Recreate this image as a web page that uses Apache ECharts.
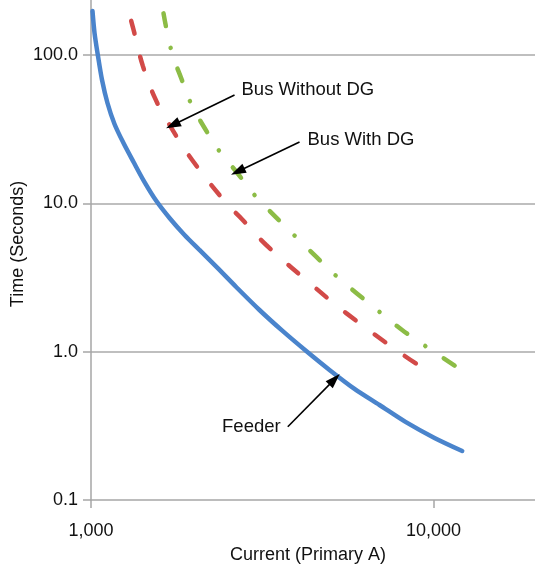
<!DOCTYPE html>
<html>
<head>
<meta charset="utf-8">
<script src="https://cdn.jsdelivr.net/npm/echarts@6/dist/echarts.min.js"></script>
<style>
html,body{margin:0;padding:0;background:#fff;}
#chart{width:535px;height:569px;}
</style>
</head>
<body>
<div id="chart"></div>
<script>
// Current (Primary A) vs Time (Seconds)
const feederData = [[1010,198],[1024,141],[1047,100],[1077,67.9],[1117,47.5],[1171,34.3],[1244,25.5],[1331,19.0],[1433,13.9],[1550,10.4],[1695,7.97],[1875,6.12],[2073,4.85],[2340,3.67],[2653,2.73],[3103,1.91],[3623,1.38],[4248,1.01],[4968,0.753],[5877,0.561],[6951,0.437],[8279,0.336],[10061,0.262],[12120,0.214]];
const busWithoutDGData = [[1310,170],[1331,148],[1416,84.8],[1540,50.8],[1695,33.8],[1974,19.6],[2481,10.06],[2773,7.73],[3247,5.24],[4591,2.61],[5558,1.82],[7901,1.0],[10060,0.689]];
const busWithDGData = [[1628,191],[1720,105],[1834,69.8],[1961,46.8],[2148,32.1],[2383,22.1],[2653,16.4],[3021,11.2],[3953,5.97],[4541,4.37],[5196,3.24],[5997,2.45],[6984,1.84],[8095,1.40],[9471,1.09],[11640,0.793]];
const yTickValues = [0.1, 1, 10, 100];
const xTickValues = [1000, 10000];
const xRange = [1000, 19770];
const yRange = [0.1, 235];
// annotations: [label, textAnchor [I,t], arrowStart [I,t], arrowTip [I,t], side]
const annotations = [
  ['Bus Without DG', [2750, 58.2], [2624, 53.8], [1733, 33.8], 'left'],
  ['Bus With DG', [4285, 26.8], [4061, 25.9], [2682, 16.4], 'left'],
  ['Feeder', [3700, 0.31], [3753, 0.312], [5137, 0.651], 'right']
];

const FONT = '"Liberation Sans", Arial, Helvetica, sans-serif';
const chart = echarts.init(document.getElementById('chart'), null, {renderer: 'canvas'});

function fmtX(v){ return Math.round(v).toString().replace(/\B(?=(\d{3})+(?!\d))/g, ','); }
function isIn(list, v){ return list.some(t => Math.abs(t - v) / t < 1e-6); }

const annoLines = annotations.map(a => [
  {coord: a[2], symbol: 'none'},
  {coord: a[3], symbol: 'triangle', symbolSize: [10, 15]}
]);
const annoPoints = annotations.map(a => ({
  coord: a[1], symbol: 'rect', symbolSize: 0,
  label: {show: true, formatter: a[0], position: a[4] === 'left' ? 'right' : 'left', distance: a[4] === 'left' ? 0 : 5,
    fontSize: 18.5, color: '#111', fontFamily: FONT}
}));

const option = {
  backgroundColor: '#fff',
  animation: false,
  grid: {left: 91, right: 0, top: 0, bottom: 69, containLabel: false},
  xAxis: {
    type: 'log', logBase: 10, min: xRange[0], max: xRange[1],
    axisLine: {show: true, lineStyle: {color: '#a6a6a6', width: 1.5}},
    axisTick: {show: true, length: 8, customValues: xTickValues, lineStyle: {color: '#a6a6a6', width: 1.5}},
    axisLabel: {show: true, margin: 22, fontSize: 18, color: '#111', fontFamily: FONT, customValues: xTickValues,
      formatter: v => isIn(xTickValues, v) ? fmtX(v) : ''},
    splitLine: {show: false},
    minorTick: {show: false}
  },
  yAxis: {
    type: 'log', logBase: 10, min: yRange[0], max: yRange[1],
    axisLine: {show: true, lineStyle: {color: '#a6a6a6', width: 1.5}},
    axisTick: {show: true, length: 8, customValues: yTickValues, lineStyle: {color: '#a6a6a6', width: 1.5}},
    axisLabel: {show: true, margin: 13, fontSize: 18, color: '#111', fontFamily: FONT, customValues: yTickValues,
      formatter: v => isIn(yTickValues, v) ? (+v).toFixed(1) : ''},
    splitLine: {show: true, showMinLine: false, lineStyle: {color: '#aaaaaa', width: 1.5}}
  },
  graphic: [
    {type: 'text', left: 230, top: 546, style: {text: 'Current (Primary A)', fontSize: 18, fill: '#111', fontFamily: FONT}},
    {type: 'text', x: 18, y: 244, rotation: Math.PI / 2, style: {text: 'Time (Seconds)', fontSize: 18, fill: '#111', fontFamily: FONT, align: 'center', verticalAlign: 'middle'}}
  ],
  series: [
    {
      name: 'Feeder', type: 'line', data: feederData, smooth: 0.3, showSymbol: false, symbol: 'none',
      lineStyle: {color: '#4a84cc', width: 4.5, cap: 'round'}, z: 3,
      markLine: {silent: true, animation: false, symbol: ['none', 'triangle'],
        lineStyle: {color: '#000', width: 1.6, type: 'solid'}, itemStyle: {color: '#000'},
        label: {show: false}, data: annoLines},
      markPoint: {silent: true, animation: false, data: annoPoints}
    },
    {
      name: 'Bus Without DG', type: 'line', data: busWithoutDGData, smooth: 0.4, showSymbol: false, symbol: 'none',
      lineStyle: {color: '#d24a48', width: 4.5, type: [13, 24], cap: 'round'}, z: 2
    },
    {
      name: 'Bus With DG', type: 'line', data: busWithDGData, smooth: 0.4, showSymbol: false, symbol: 'none',
      lineStyle: {color: '#8cbc46', width: 4.5, type: [13, 22, 0.1, 22], cap: 'round'}, z: 2
    }
  ]
};
chart.setOption(option);
</script>
</body>
</html>
